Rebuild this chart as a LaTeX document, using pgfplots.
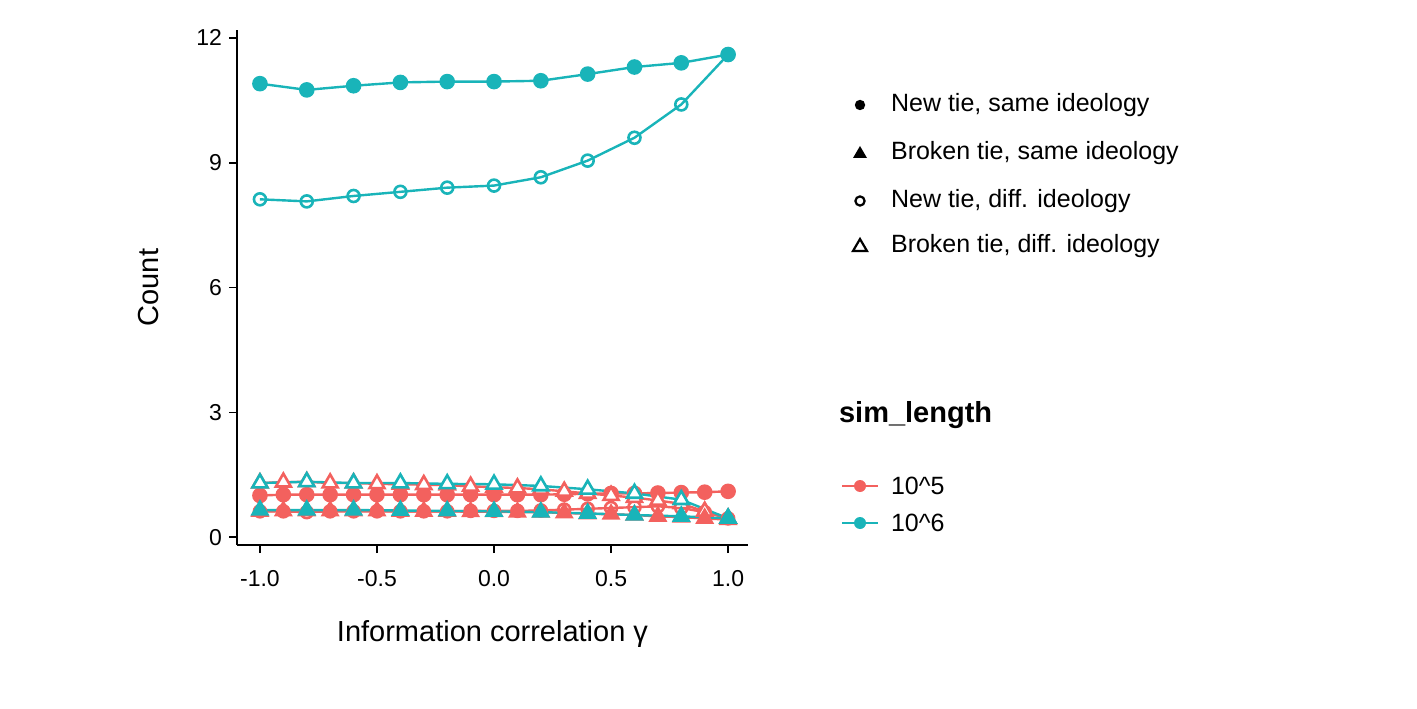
\documentclass[border=0pt]{standalone}
\usepackage{pgfplots}
\pgfplotsset{compat=1.18}
\usepackage{fontspec}
\setmainfont{Liberation Sans}
\definecolor{cr}{HTML}{F3615E}
\definecolor{ct}{HTML}{19B4B9}
\begin{document}
\begin{tikzpicture}[x=1pt,y=1pt]
\path (0,0) rectangle (708.5,354);
\begin{axis}[at={(118.5pt,81.5pt)},anchor=south west,scale only axis,
 width=255.5pt,height=257.5pt,
 xmin=-1.098,xmax=1.085,ymin=-0.19,ymax=12.19,
 axis x line*=bottom,axis y line*=left,
 axis line style={line width=0.8pt,-},
 xtick={-1,-0.5,0,0.5,1},xticklabels={-1.0,-0.5,0.0,0.5,1.0},
 ytick={0,3,6,9,12},
 tick style={black,line width=0.8pt},tick align=outside,major tick length=4pt,
 ticklabel style={font=\fontsize{11.5}{13}\selectfont},
 xticklabel style={yshift=-5pt},
 /pgf/number format/assume math mode=true,
 xlabel={Information correlation γ},ylabel={Count},
 label style={font=\fontsize{14.5}{17}\selectfont},
 xlabel style={yshift=-10pt},
 ylabel style={yshift=12pt},
 every axis plot/.append style={line width=1.2pt},
]
% red (10^5), 21 points
\addplot[cr,mark=*,mark size=3.3pt] coordinates {(-1,1.0)(-0.9,1.02)(-0.8,1.02)(-0.7,1.02)(-0.6,1.02)(-0.5,1.02)(-0.4,1.02)(-0.3,1.02)(-0.2,1.02)(-0.1,1.02)(0,1.02)(0.1,1.02)(0.2,1.02)(0.3,1.03)(0.4,1.04)(0.5,1.05)(0.6,1.05)(0.7,1.06)(0.8,1.07)(0.9,1.08)(1.0,1.1)};
\addplot[cr,mark=o,mark size=3pt,mark options={fill=white,line width=1.3pt}] coordinates {(-1,0.62)(-0.9,0.62)(-0.8,0.6)(-0.7,0.62)(-0.6,0.62)(-0.5,0.62)(-0.4,0.62)(-0.3,0.62)(-0.2,0.62)(-0.1,0.63)(0,0.63)(0.1,0.63)(0.2,0.64)(0.3,0.66)(0.4,0.68)(0.5,0.7)(0.6,0.72)(0.7,0.74)(0.8,0.7)(0.9,0.6)(1.0,0.45)};
\addplot[cr,mark=triangle*,mark size=4.3pt,mark options={fill=white,line width=1.3pt}] coordinates {(-1,1.3)(-0.9,1.32)(-0.8,1.33)(-0.7,1.3)(-0.6,1.3)(-0.5,1.28)(-0.4,1.27)(-0.3,1.26)(-0.2,1.25)(-0.1,1.22)(0,1.2)(0.1,1.18)(0.2,1.15)(0.3,1.1)(0.4,1.05)(0.5,1.0)(0.6,0.95)(0.7,0.88)(0.8,0.8)(0.9,0.62)(1.0,0.45)};
\addplot[cr,mark=triangle*,mark size=4.3pt] coordinates {(-1,0.62)(-0.9,0.63)(-0.8,0.63)(-0.7,0.63)(-0.6,0.63)(-0.5,0.63)(-0.4,0.62)(-0.3,0.62)(-0.2,0.62)(-0.1,0.61)(0,0.61)(0.1,0.6)(0.2,0.6)(0.3,0.58)(0.4,0.56)(0.5,0.55)(0.6,0.53)(0.7,0.5)(0.8,0.48)(0.9,0.45)(1.0,0.42)};
% teal (10^6), 11 points
\addplot[ct,mark=*,mark size=3.3pt] coordinates {(-1,10.9)(-0.8,10.75)(-0.6,10.85)(-0.4,10.93)(-0.2,10.95)(0,10.95)(0.2,10.97)(0.4,11.13)(0.6,11.3)(0.8,11.4)(1.0,11.6)};
\addplot[ct,mark=o,mark size=3pt,mark options={fill=white,line width=1.3pt}] coordinates {(-1,8.12)(-0.8,8.07)(-0.6,8.2)(-0.4,8.3)(-0.2,8.4)(0,8.45)(0.2,8.65)(0.4,9.05)(0.6,9.6)(0.8,10.4)(1.0,11.6)};
\addplot[ct,mark=triangle*,mark size=4.3pt,mark options={fill=white,line width=1.3pt}] coordinates {(-1,1.3)(-0.8,1.33)(-0.6,1.3)(-0.4,1.3)(-0.2,1.28)(0,1.27)(0.2,1.23)(0.4,1.15)(0.6,1.05)(0.8,0.9)(1.0,0.45)};
\addplot[ct,mark=triangle*,mark size=4.3pt] coordinates {(-1,0.65)(-0.8,0.65)(-0.6,0.65)(-0.4,0.64)(-0.2,0.63)(0,0.62)(0.2,0.6)(0.4,0.57)(0.6,0.53)(0.8,0.5)(1.0,0.45)};
\end{axis}
% legend 1 (shapes)
\begin{scope}[font=\fontsize{12.5}{15}\selectfont]
\fill (430,301.5) circle (2.6);
\node[anchor=west] at (442,301.5) {New tie, same ideology};
\fill (426.5,275) -- (433.5,275) -- (430,281) -- cycle;
\node[anchor=west] at (442,277.5) {Broken tie, same ideology};
\draw[line width=1.1pt] (430,253.5) circle (2.3);
\node[anchor=west] at (442,253.5) {New tie, diff. ideology};
\draw[line width=1.1pt] (426.5,228.5) -- (433.5,228.5) -- (430,234.5) -- cycle;
\node[anchor=west] at (442,231) {Broken tie, diff. ideology};
\node[anchor=west,font=\fontsize{14.5}{17}\selectfont\bfseries] at (416,146.5) {sim\_length};
\draw[cr,line width=1.2pt] (421,111) -- (439,111); \fill[cr] (430,111) circle (3);
\node[anchor=west] at (442,111) {10\^{}5};
\draw[ct,line width=1.2pt] (421,92.5) -- (439,92.5); \fill[ct] (430,92.5) circle (3);
\node[anchor=west] at (442,92.5) {10\^{}6};
\end{scope}
\end{tikzpicture}
\end{document}
